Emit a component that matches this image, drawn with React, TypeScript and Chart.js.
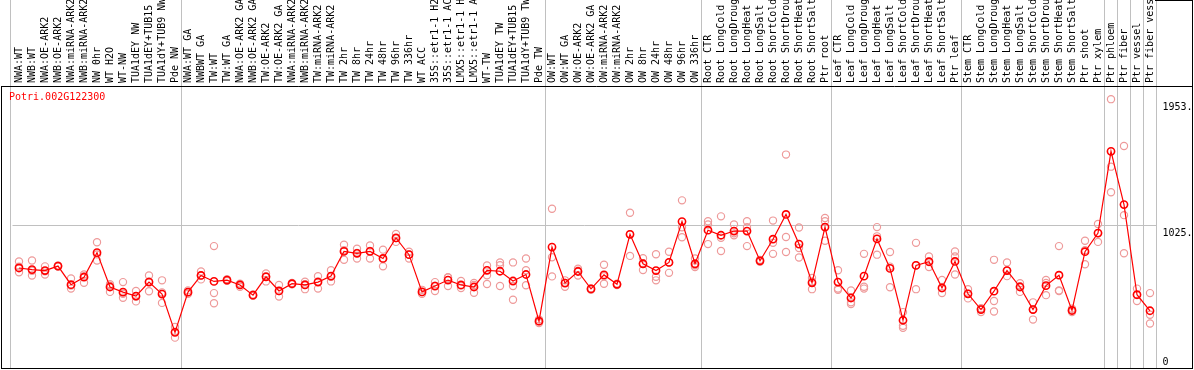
import React, { useEffect, useRef } from 'react';
import { Chart, registerables } from 'chart.js';

Chart.register(...registerables);

const geneName = 'Potri.002G122300';

const categories = [
  'NWA:WT', 'NWB:WT', 'NWA:OE-ARK2', 'NWB:OE-ARK2', 'NWA:miRNA-ARK2', 'NWB:miRNA-ARK2',
  'NW 0hr', 'WT H2O', 'WT-NW', 'TUA1dEY NW', 'TUA1dEY+TUB15 NW', 'TUA1dY+TUB9 NW', 'Pde NW',
  'NWA:WT GA', 'NWBWT GA', 'TW:WT', 'TW:WT GA', 'NWA:OE-ARK2 GA', 'NWB:OE-ARK2 GA',
  'TW:OE-ARK2', 'TW:OE-ARK2 GA', 'NWA:miRNA-ARK2', 'NWB:miRNA-ARK2', 'TW:miRNA-ARK2',
  'TW:miRNA-ARK2', 'TW 2hr', 'TW 8hr', 'TW 24hr', 'TW 48hr', 'TW 96hr', 'TW 336hr', 'WT ACC',
  '35S::etr1-1 H2O', '35S::etr1-1 ACC', 'LMX5::etr1-1 H2O', 'LMX5::etr1-1 ACC', 'WT-TW',
  'TUA1dEY TW', 'TUA1dEY+TUB15 TW', 'TUA1dY+TUB9 TW', 'Pde TW',
  'OW:WT', 'OW:WT GA', 'OW:OE-ARK2', 'OW:OE-ARK2 GA', 'OW:miRNA-ARK2', 'OW:miRNA-ARK2',
  'OW 2hr', 'OW 8hr', 'OW 24hr', 'OW 48hr', 'OW 96hr', 'OW 336hr',
  'Root CTR', 'Root LongCold', 'Root LongDrought', 'Root LongHeat', 'Root LongSalt',
  'Root ShortCold', 'Root ShortDrought', 'Root ShortHeat', 'Root ShortSalt', 'Ptr root',
  'Leaf CTR', 'Leaf LongCold', 'Leaf LongDrought', 'Leaf LongHeat', 'Leaf LongSalt',
  'Leaf ShortCold', 'Leaf ShortDrought', 'Leaf ShortHeat', 'Leaf ShortSalt', 'Ptr leaf',
  'Stem CTR', 'Stem LongCold', 'Stem LongDrought', 'Stem LongHeat', 'Stem LongSalt',
  'Stem ShortCold', 'Stem ShortDrought', 'Stem ShortHeat', 'Stem ShortSalt', 'Ptr shoot',
  'Ptr xylem', 'Ptr phloem', 'Ptr fiber', 'Ptr vessel', 'Ptr fiber vessel',
];

const meanValues = [
  710, 698, 691, 724, 587, 642, 823, 570, 532, 503, 606, 518, 236,
  532, 655, 611, 621, 585, 510, 645, 541, 594, 585, 606, 650, 832, 818, 832, 780, 931, 808,
  534, 577, 621, 585, 570, 693, 686, 614, 662, 318,
  864, 599, 684, 556, 659, 590, 958, 741, 691, 751, 1052, 741,
  988, 951, 982, 982, 763, 922, 1104, 886, 601, 1011,
  606, 489, 650, 924, 707, 325, 729, 756, 563, 758,
  520, 404, 539, 691, 570, 404, 580, 657, 397, 830,
  967, 1569, 1177, 513, 395,
];

const rep1 = [
  758, 765, 722, 720, 633, 662, 900, 590, 606, 541, 655, 619, 276,
  532, 684, 871, 621, 572, 510, 669, 585, 594, 609, 650, 693, 881, 852, 876, 845, 960, 830,
  549, 606, 642, 614, 599, 729, 751, 751, 780, 330,
  1146, 619, 705, 556, 734, 590, 1117, 782, 811, 830, 1208, 780,
  1054, 1090, 1030, 1054, 770, 1059, 1545, 1008, 637, 1078,
  693, 544, 814, 1011, 828, 385, 895, 794, 621, 832,
  554, 414, 770, 751, 597, 457, 621, 871, 385, 910,
  1034, 1953, 1608, 558, 525,
];

const rep2 = [
  679, 655, 662, 728, 558, 601, 765, 534, 491, 464, 539, 453, 197,
  520, 626, 525, 615, 595, 505, 611, 500, 590, 554, 558, 611, 770, 780, 780, 722, 902, 780,
  520, 541, 577, 563, 527, 657, 577, 577, 693, 305,
  789, 572, 655, 550, 594, 585, 799, 695, 645, 674, 936, 717,
  1030, 933, 951, 1011, 755, 895, 938, 857, 554, 1054,
  558, 457, 572, 943, 568, 284, 554, 717, 525, 794,
  486, 385, 467, 650, 534, 330, 510, 541, 397, 738,
  902, 1456, 1099, 467, 366,
];

const rep3 = [
  720, 690, 685, 724, 580, 650, 810, 580, 520, 500, 610, 529, 240,
  545, 655, 450, 628, 590, 515, 650, 540, 600, 590, 610, 645, 840, 820, 835, 775, 930, 810,
  534, 580, 640, 580, 585, 592, 730, 476, 583, 318,
  648, 600, 690, 560, 650, 595, 958, 745, 619, 750, 1010, 730,
  886, 835, 965, 871, 763, 814, 828, 787, 610, 910,
  549, 445, 558, 808, 720, 269, 730, 756, 560, 662,
  520, 410, 390, 690, 575, 404, 600, 545, 410, 840,
  967, 1268, 818, 512, 301,
];

const yTickValues = [0, 1025, 1953];
const yTickLabels = ['0', '1025.', '1953.'];
const groupEnds = [12, 40, 52, 62, 72, 83, 84, 85, 86, 87];

const FONT = '"DejaVu Sans Mono", "Liberation Mono", monospace';

const toPoints = (arr: (number | null)[]) =>
  arr.map((v, i) => ({ x: i, y: v }));

const framePlugin = {
  id: 'frame',
  beforeDatasetsDraw(chart: any) {
    const { ctx, chartArea, scales } = chart;
    const xs = scales.x;
    ctx.save();
    ctx.strokeStyle = '#c0c0c0';
    ctx.lineWidth = 1;
    const lines = [chartArea.left - 2];
    groupEnds.forEach((g) => lines.push(Math.round(xs.getPixelForValue(g + 0.5)) - 1));
    lines.forEach((lx) => {
      const px = Math.floor(lx) + 0.5;
      ctx.beginPath();
      ctx.moveTo(px, 0);
      ctx.lineTo(px, 368);
      ctx.stroke();
    });
    ctx.restore();
  },
  afterDraw(chart: any) {
    const { ctx, chartArea, scales } = chart;
    const ys = scales.y;
    ctx.save();
    ctx.strokeStyle = '#000';
    ctx.lineWidth = 1;
    ctx.beginPath();
    ctx.moveTo(1, 86.5);
    ctx.lineTo(1192.5, 86.5);
    ctx.moveTo(1.5, 86);
    ctx.lineTo(1.5, 368.5);
    ctx.moveTo(1, 368.5);
    ctx.lineTo(1193, 368.5);
    ctx.moveTo(1192.5, 0);
    ctx.lineTo(1192.5, 369);
    ctx.moveTo(1155, 0.5);
    ctx.lineTo(1193, 0.5);
    ctx.stroke();

    ctx.font = '10px ' + FONT;
    ctx.fillStyle = '#000';
    ctx.textAlign = 'left';
    yTickValues.forEach((v, i) => {
      const py = ys.getPixelForValue(v);
      if (v === 0) {
        ctx.textBaseline = 'bottom';
        ctx.fillText(yTickLabels[i], chartArea.right + 6, 367);
      } else {
        ctx.textBaseline = 'top';
        ctx.fillText(yTickLabels[i], chartArea.right + 6, py + 3);
      }
    });

    ctx.fillStyle = '#ff0000';
    ctx.textBaseline = 'middle';
    ctx.fillText(geneName, 9, 97);
    ctx.restore();
  },
};

export default function App() {
  const canvasRef = useRef<HTMLCanvasElement | null>(null);

  useEffect(() => {
    document.body.style.margin = '0';
    const canvas = canvasRef.current;
    if (!canvas) return;
    const repStyle = {
      type: 'scatter' as const,
      showLine: false,
      pointStyle: 'circle',
      pointRadius: 3.6,
      pointBorderWidth: 1.2,
      pointBorderColor: '#ee9a9a',
      pointBackgroundColor: 'rgba(0,0,0,0)',
      borderColor: '#ee9a9a',
    };
    const chart = new Chart(canvas, {
      type: 'line',
      data: {
        datasets: [
          {
            type: 'line',
            label: 'mean',
            data: toPoints(meanValues),
            borderColor: '#ff0000',
            borderWidth: 1.2,
            pointStyle: 'circle',
            pointRadius: 3.6,
            pointBorderWidth: 1.6,
            pointBorderColor: '#ff0000',
            pointBackgroundColor: 'rgba(0,0,0,0)',
            tension: 0,
          } as any,
          { ...repStyle, label: 'rep1', data: toPoints(rep1) } as any,
          { ...repStyle, label: 'rep2', data: toPoints(rep2) } as any,
          { ...repStyle, label: 'rep3', data: toPoints(rep3) } as any,
        ],
      },
      options: {
        animation: false,
        responsive: false,
        devicePixelRatio: 1,
        layout: { padding: { left: 12.5, right: 0, top: 0, bottom: 0 } },
        plugins: {
          legend: { display: false },
          tooltip: { enabled: false },
        },
        scales: {
          x: {
            type: 'linear',
            position: 'top',
            min: -0.5,
            max: 87.5,
            afterBuildTicks: (s: any) => {
              s.ticks = categories.map((_, i) => ({ value: i }));
            },
            afterFit: (s: any) => {
              s.height = 86;
              s.paddingLeft = 0;
              s.paddingRight = 0;
            },
            ticks: {
              autoSkip: false,
              minRotation: 90,
              maxRotation: 90,
              padding: 3,
              labelOffset: 12.5,
              color: '#000',
              font: { family: FONT, size: 10 },
              callback: (v: any) => categories[v] ?? '',
            },
            grid: { display: false, drawTicks: false },
            border: { display: false },
          },
          y: {
            type: 'linear',
            position: 'right',
            min: 0,
            max: 2050,
            afterBuildTicks: (s: any) => {
              s.ticks = yTickValues.map((v) => ({ value: v }));
            },
            afterFit: (s: any) => {
              s.width = 37.5;
            },
            ticks: { display: false },
            grid: {
              drawTicks: false,
              color: (c: any) => (c.tick && c.tick.value === 1025 ? '#c0c0c0' : 'rgba(0,0,0,0)'),
            },
            border: { display: false },
          },
        },
      } as any,
      plugins: [framePlugin],
    });
    return () => chart.destroy();
  }, []);

  return (
    <div style={{ width: 1194, height: 370 }}>
      <canvas ref={canvasRef} width={1194} height={370} style={{ display: 'block' }} />
    </div>
  );
}
